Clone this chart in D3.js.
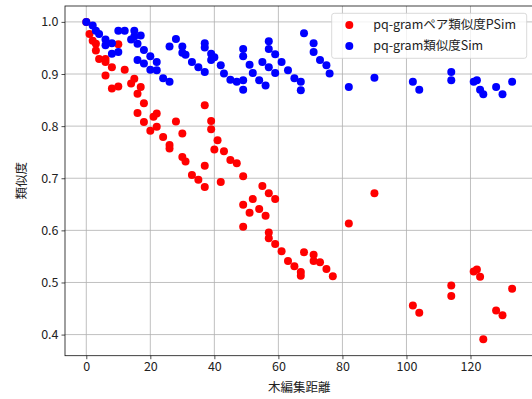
<!DOCTYPE html>
<html>
<head>
<meta charset="utf-8">
<script src="https://cdn.jsdelivr.net/npm/d3@7"></script>
<style>
  body { margin: 0; background: #fff; }
  svg text { font-family: "Noto Sans CJK JP", "Noto Sans", sans-serif; fill: #222; }
</style>
</head>
<body>
<div id="chart"></div>
<script>
// pq-gramペア類似度PSim
var psimDist = [0, 1, 2, 3, 3, 4, 6, 6, 8, 6, 8, 10, 10, 12, 14, 15, 17, 16, 18, 16, 18, 20, 21, 22, 22, 24, 26, 26, 28, 30,
  30, 31, 33, 35, 37, 37, 37, 39, 39, 41, 40, 43, 45, 47, 49, 42, 55, 57, 59, 49, 52, 51, 54, 56, 49, 57, 57, 59, 61, 63,
  65, 67, 67, 68, 71, 71, 73, 75, 77, 82, 90, 102, 104, 114, 114, 121, 122, 123, 124, 128, 130, 133];
var psimVals = [1.0, 0.977, 0.964, 0.958, 0.945, 0.929, 0.929, 0.923, 0.913, 0.897, 0.872, 0.876, 0.957, 0.908, 0.882, 0.891, 0.875, 0.862, 0.844, 0.825, 0.808, 0.791, 0.818, 0.824, 0.799, 0.779, 0.764, 0.757, 0.809, 0.786,
  0.741, 0.732, 0.706, 0.697, 0.683, 0.724, 0.84, 0.81, 0.794, 0.773, 0.755, 0.752, 0.735, 0.729, 0.704, 0.693, 0.685, 0.671, 0.66, 0.649, 0.66, 0.634, 0.641, 0.628, 0.607, 0.596, 0.585, 0.574, 0.56, 0.541,
  0.531, 0.52, 0.513, 0.558, 0.553, 0.541, 0.539, 0.526, 0.512, 0.613, 0.671, 0.456, 0.442, 0.494, 0.474, 0.521, 0.525, 0.511, 0.391, 0.446, 0.437, 0.488];

// pq-gram類似度Sim
var simDist = [0, 2, 3, 4, 6, 8, 6, 8, 10, 10, 12, 15, 15, 17, 14, 16, 18, 16, 18, 20, 22, 20, 22, 24, 26, 26, 28, 30, 30, 31,
  33, 35, 37, 37, 37, 39, 40, 39, 42, 43, 45, 47, 49, 49, 49, 49, 51, 52, 55, 57, 59, 54, 56, 57, 57, 59, 61, 63, 65, 67,
  67, 68, 71, 71, 73, 75, 76, 82, 90, 102, 104, 114, 114, 121, 122, 123, 124, 128, 130, 133];
var simVals = [1.0, 0.993, 0.983, 0.977, 0.966, 0.959, 0.955, 0.939, 0.942, 0.983, 0.983, 0.983, 0.972, 0.974, 0.966, 0.958, 0.946, 0.927, 0.92, 0.934, 0.923, 0.908, 0.907, 0.892, 0.885, 0.953, 0.967, 0.953, 0.941, 0.937,
  0.923, 0.913, 0.904, 0.959, 0.951, 0.939, 0.932, 0.927, 0.917, 0.901, 0.889, 0.885, 0.888, 0.87, 0.948, 0.934, 0.918, 0.902, 0.923, 0.913, 0.902, 0.888, 0.878, 0.963, 0.948, 0.938, 0.923, 0.907, 0.892, 0.885,
  0.869, 0.978, 0.959, 0.942, 0.927, 0.917, 0.901, 0.875, 0.893, 0.885, 0.87, 0.904, 0.888, 0.885, 0.888, 0.87, 0.861, 0.875, 0.861, 0.885];

var xTicks = [0, 20, 40, 60, 80, 100, 120];
var yTicks = [0.4, 0.5, 0.6, 0.7, 0.8, 0.9, 1.0];
var seriesNames = ["pq-gramペア類似度PSim", "pq-gram類似度Sim"];
var seriesColors = ["#ff0000", "#0000ff"];

var W = 532, H = 399;
// plot area edges (right spine sits just past the picture)
var pL = 65, pT = 6, pR = 533.4, pB = 355.7;
var fs = "12.5px";

var svg = d3.select("#chart").append("svg")
  .attr("width", W)
  .attr("height", H);

var x = d3.scaleLinear().domain([-6.65, 139.65]).range([pL, pR]);
var y = d3.scaleLinear().domain([0.3595, 1.0305]).range([pB, pT]);

// grid
svg.append("g").selectAll("line").data(xTicks).enter().append("line")
  .attr("x1", d => x(d)).attr("x2", d => x(d))
  .attr("y1", pT).attr("y2", pB)
  .attr("stroke", "#b0b0b0").attr("stroke-width", 0.8);
svg.append("g").selectAll("line").data(yTicks).enter().append("line")
  .attr("x1", pL).attr("x2", pR)
  .attr("y1", d => y(d)).attr("y2", d => y(d))
  .attr("stroke", "#b0b0b0").attr("stroke-width", 0.8);

// points, red first then blue on top
var red = psimDist.map((d, i) => [d, psimVals[i]]);
var blue = simDist.map((d, i) => [d, simVals[i]]);
[red, blue].forEach(function (pts, k) {
  svg.append("g").selectAll("circle").data(pts).enter().append("circle")
    .attr("cx", d => x(d[0]))
    .attr("cy", d => y(d[1]))
    .attr("r", 4)
    .attr("fill", seriesColors[k]);
});

// axes
var xAxis = svg.append("g")
  .attr("transform", "translate(0," + pB + ")")
  .call(d3.axisBottom(x).tickValues(xTicks).tickSize(3.5).tickPadding(3).tickFormat(d3.format("d")));
var yAxis = svg.append("g")
  .attr("transform", "translate(" + pL + ",0)")
  .call(d3.axisLeft(y).tickValues(yTicks).tickSize(3.5).tickPadding(3).tickFormat(d3.format(".1f")));
[xAxis, yAxis].forEach(function (a) {
  a.select(".domain").remove();
  a.selectAll("line").attr("stroke", "#222").attr("stroke-width", 0.8);
  a.selectAll("text").style("font-size", fs).attr("fill", "#222");
});

// frame
svg.append("rect")
  .attr("x", pL).attr("y", pT)
  .attr("width", pR - pL).attr("height", pB - pT)
  .attr("fill", "none").attr("stroke", "#111").attr("stroke-width", 0.8);

// labels
svg.append("text")
  .attr("x", (pL + pR) / 2).attr("y", 392)
  .attr("text-anchor", "middle")
  .style("font-size", fs)
  .text("木編集距離");
svg.append("text")
  .attr("transform", "translate(26," + ((pT + pB) / 2) + ") rotate(-90)")
  .attr("text-anchor", "middle")
  .style("font-size", fs)
  .text("類似度");

// legend
var lg = svg.append("g").attr("transform", "translate(331.7,13.3)");
lg.append("rect")
  .attr("width", 195).attr("height", 45).attr("rx", 2.5)
  .attr("fill", "#fff").attr("fill-opacity", 0.8)
  .attr("stroke", "#d0d0d0").attr("stroke-width", 0.8);
seriesNames.forEach(function (name, i) {
  lg.append("circle")
    .attr("cx", 17.6).attr("cy", 11.7 + i * 21)
    .attr("r", 4).attr("fill", seriesColors[i]);
  lg.append("text")
    .attr("x", 41.5).attr("y", 16 + i * 21)
    .style("font-size", fs)
    .text(name);
});
</script>
</body>
</html>
